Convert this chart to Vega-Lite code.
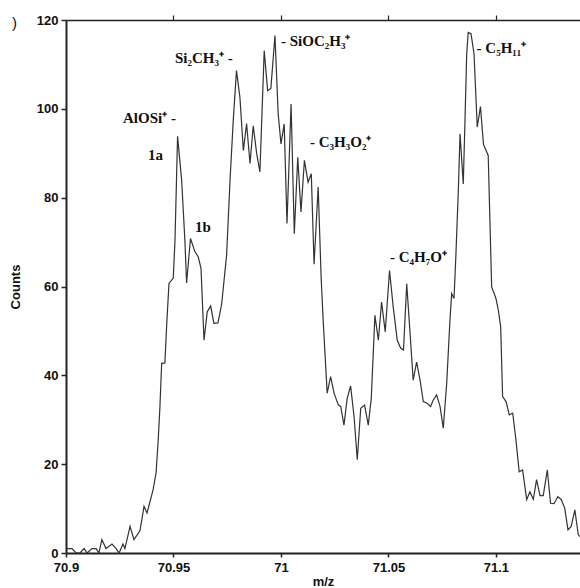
{
  "$schema": "https://vega.github.io/schema/vega-lite/v6.json",
  "width": 514,
  "height": 533,
  "autosize": {"type": "none"},
  "padding": {"left": 66, "top": 20, "right": 0, "bottom": 35},
  "background": "white",
  "view": {"stroke": null},
  "config": {
    "font": "Liberation Sans",
    "axis": {
      "labelFont": "Liberation Sans",
      "labelFontWeight": "bold",
      "labelFontSize": 13,
      "labelColor": "#111",
      "titleFont": "Liberation Sans",
      "titleFontWeight": "bold",
      "titleFontSize": 13,
      "titleColor": "#111",
      "domainColor": "#222",
      "tickColor": "#222",
      "grid": false
    }
  },
  "datasets": {
    "spectrum": [
      {"mz": 70.9003, "counts": 1}, {"mz": 70.9028, "counts": 1}, {"mz": 70.9047, "counts": 0},
      {"mz": 70.9065, "counts": 0}, {"mz": 70.9084, "counts": 1}, {"mz": 70.9098, "counts": 0},
      {"mz": 70.9121, "counts": 1}, {"mz": 70.9140, "counts": 1}, {"mz": 70.9153, "counts": 0},
      {"mz": 70.9167, "counts": 3}, {"mz": 70.9186, "counts": 1}, {"mz": 70.9214, "counts": 2},
      {"mz": 70.9233, "counts": 1}, {"mz": 70.9247, "counts": 0}, {"mz": 70.9265, "counts": 2},
      {"mz": 70.9274, "counts": 1}, {"mz": 70.9298, "counts": 6}, {"mz": 70.9316, "counts": 3},
      {"mz": 70.9344, "counts": 5}, {"mz": 70.9363, "counts": 10.5}, {"mz": 70.9377, "counts": 9},
      {"mz": 70.9405, "counts": 14.2}, {"mz": 70.9419, "counts": 18}, {"mz": 70.9429, "counts": 25.5},
      {"mz": 70.9437, "counts": 33}, {"mz": 70.9445, "counts": 42.7}, {"mz": 70.9460, "counts": 42.8},
      {"mz": 70.9468, "counts": 51}, {"mz": 70.9479, "counts": 60.7}, {"mz": 70.9499, "counts": 61.9},
      {"mz": 70.9507, "counts": 70.4}, {"mz": 70.9519, "counts": 93.8}, {"mz": 70.9538, "counts": 83.9},
      {"mz": 70.9553, "counts": 70.4}, {"mz": 70.9561, "counts": 60.8}, {"mz": 70.9579, "counts": 70.8},
      {"mz": 70.9600, "counts": 67.8}, {"mz": 70.9615, "counts": 66.7}, {"mz": 70.9628, "counts": 64.1},
      {"mz": 70.9642, "counts": 47.9}, {"mz": 70.9657, "counts": 54.3}, {"mz": 70.9673, "counts": 55.6},
      {"mz": 70.9688, "counts": 51.7}, {"mz": 70.9707, "counts": 51.8}, {"mz": 70.9724, "counts": 56},
      {"mz": 70.9747, "counts": 67}, {"mz": 70.9763, "counts": 83.9}, {"mz": 70.9778, "counts": 97.4},
      {"mz": 70.9793, "counts": 108.6}, {"mz": 70.9809, "counts": 102.6}, {"mz": 70.9825, "counts": 90.6},
      {"mz": 70.9840, "counts": 96.7}, {"mz": 70.9856, "counts": 87.7}, {"mz": 70.9871, "counts": 96.2},
      {"mz": 70.9887, "counts": 89.9}, {"mz": 70.9902, "counts": 85.8}, {"mz": 70.9922, "counts": 113.1},
      {"mz": 70.9938, "counts": 104.1}, {"mz": 70.9953, "counts": 104.6}, {"mz": 70.9972, "counts": 116.5},
      {"mz": 70.9987, "counts": 98.9}, {"mz": 71.0000, "counts": 92.1}, {"mz": 71.0015, "counts": 96.6},
      {"mz": 71.0028, "counts": 74.2}, {"mz": 71.0047, "counts": 101.1}, {"mz": 71.0062, "counts": 71.9},
      {"mz": 71.0078, "counts": 89.1}, {"mz": 71.0093, "counts": 76.8}, {"mz": 71.0109, "counts": 88.4},
      {"mz": 71.0126, "counts": 83.5}, {"mz": 71.0141, "counts": 85.4}, {"mz": 71.0154, "counts": 65},
      {"mz": 71.0173, "counts": 82.4}, {"mz": 71.0187, "counts": 61.8}, {"mz": 71.0197, "counts": 51.7},
      {"mz": 71.0215, "counts": 36}, {"mz": 71.0231, "counts": 39.7}, {"mz": 71.0247, "counts": 36},
      {"mz": 71.0267, "counts": 33.3}, {"mz": 71.0278, "counts": 33}, {"mz": 71.0293, "counts": 28.8},
      {"mz": 71.0308, "counts": 34.8}, {"mz": 71.0324, "counts": 37.6}, {"mz": 71.0340, "counts": 30.7},
      {"mz": 71.0355, "counts": 21}, {"mz": 71.0371, "counts": 32.6}, {"mz": 71.0389, "counts": 33.3},
      {"mz": 71.0406, "counts": 28.8}, {"mz": 71.0420, "counts": 34.8}, {"mz": 71.0437, "counts": 53.5},
      {"mz": 71.0453, "counts": 47.9}, {"mz": 71.0468, "counts": 56.5}, {"mz": 71.0485, "counts": 49.8},
      {"mz": 71.0505, "counts": 63.6}, {"mz": 71.0522, "counts": 55.4}, {"mz": 71.0541, "counts": 47.9},
      {"mz": 71.0557, "counts": 46.1}, {"mz": 71.0570, "counts": 45.7}, {"mz": 71.0585, "counts": 60.6},
      {"mz": 71.0600, "counts": 49.8}, {"mz": 71.0615, "counts": 38.9}, {"mz": 71.0631, "counts": 43},
      {"mz": 71.0647, "counts": 38.9}, {"mz": 71.0662, "counts": 34.1}, {"mz": 71.0680, "counts": 33.7},
      {"mz": 71.0696, "counts": 33}, {"mz": 71.0708, "counts": 34.4}, {"mz": 71.0724, "counts": 35.6},
      {"mz": 71.0740, "counts": 33}, {"mz": 71.0755, "counts": 28.1}, {"mz": 71.0771, "counts": 38.2},
      {"mz": 71.0786, "counts": 52.4}, {"mz": 71.0794, "counts": 58.4}, {"mz": 71.0805, "counts": 57.3},
      {"mz": 71.0814, "counts": 67.4}, {"mz": 71.0825, "counts": 81.6}, {"mz": 71.0833, "counts": 94.4},
      {"mz": 71.0840, "counts": 89.1}, {"mz": 71.0848, "counts": 83.1}, {"mz": 71.0856, "counts": 97.4},
      {"mz": 71.0864, "counts": 112.4}, {"mz": 71.0871, "counts": 117.2}, {"mz": 71.0884, "counts": 116.9},
      {"mz": 71.0898, "counts": 112.4}, {"mz": 71.0913, "counts": 95.9}, {"mz": 71.0928, "counts": 100.5},
      {"mz": 71.0942, "counts": 92}, {"mz": 71.0964, "counts": 89.5}, {"mz": 71.0980, "counts": 59.9},
      {"mz": 71.1000, "counts": 57.3}, {"mz": 71.1011, "counts": 54.7}, {"mz": 71.1022, "counts": 50.9},
      {"mz": 71.1031, "counts": 35.2}, {"mz": 71.1047, "counts": 34.1}, {"mz": 71.1062, "counts": 31.1},
      {"mz": 71.1078, "counts": 31.5}, {"mz": 71.1093, "counts": 25.5}, {"mz": 71.1108, "counts": 18.3},
      {"mz": 71.1124, "counts": 18.7}, {"mz": 71.1143, "counts": 12}, {"mz": 71.1158, "counts": 13.8},
      {"mz": 71.1174, "counts": 12.1}, {"mz": 71.1189, "counts": 16.5}, {"mz": 71.1205, "counts": 12.9},
      {"mz": 71.1220, "counts": 12.9}, {"mz": 71.1239, "counts": 18.7}, {"mz": 71.1254, "counts": 11.2},
      {"mz": 71.1270, "counts": 11.1}, {"mz": 71.1288, "counts": 12.7}, {"mz": 71.1304, "counts": 12},
      {"mz": 71.1320, "counts": 10.1}, {"mz": 71.1335, "counts": 5.2}, {"mz": 71.1350, "counts": 6},
      {"mz": 71.1367, "counts": 9.7}, {"mz": 71.1383, "counts": 4.1}, {"mz": 71.1391, "counts": 3.7}
    ],
    "labels": [
      {"mz": 70.9265, "counts": 98.0, "label": "AlOSi⁺ -"},
      {"mz": 70.9381, "counts": 89.5, "label": "1a"},
      {"mz": 70.9600, "counts": 73.5, "label": "1b"},
      {"mz": 70.9507, "counts": 111.5, "label": "Si₂CH₃⁺ -"},
      {"mz": 71.0000, "counts": 115.3, "label": "- SiOC₂H₃⁺"},
      {"mz": 71.0135, "counts": 92.5, "label": "- C₃H₃O₂⁺"},
      {"mz": 71.0507, "counts": 66.7, "label": "- C₄H₇O⁺"},
      {"mz": 71.0910, "counts": 113.8, "label": "- C₅H₁₁⁺"}
    ],
    "corner": [
      {"mz": 70.8749, "counts": 119.4, "label": ")"}
    ]
  },
  "layer": [
    {
      "data": {"name": "spectrum"},
      "mark": {"type": "line", "color": "#333", "strokeWidth": 1.2, "clip": true},
      "encoding": {
        "x": {
          "field": "mz", "type": "quantitative",
          "scale": {"domain": [70.9, 71.1391], "nice": false, "zero": false},
          "axis": {
            "orient": "bottom", "title": "m/z",
            "values": [70.9, 70.95, 71, 71.05, 71.1],
            "format": ".2~f",
            "tickSize": 4, "domainWidth": 2, "tickWidth": 1.5,
            "labelPadding": 4, "titlePadding": 1,
            "labelFlush": false
          }
        },
        "y": {
          "field": "counts", "type": "quantitative",
          "scale": {"domain": [0, 120], "nice": false},
          "axis": {
            "title": "Counts",
            "values": [0, 20, 40, 60, 80, 100, 120],
            "tickSize": 5, "domainWidth": 2, "tickWidth": 1.5,
            "labelPadding": 3, "titlePadding": 14,
            "labelFlush": false
          }
        }
      }
    },
    {
      "data": {"name": "spectrum"},
      "mark": {"type": "point", "opacity": 0},
      "encoding": {
        "x": {
          "field": "mz", "type": "quantitative",
          "axis": {
            "orient": "top", "title": null, "labels": false,
            "values": [70.95, 71, 71.05, 71.1],
            "tickSize": 5, "domainWidth": 1.5, "tickWidth": 1.2
          }
        }
      }
    },
    {
      "data": {"name": "labels"},
      "mark": {"type": "text", "align": "left", "baseline": "middle", "font": "Liberation Serif", "fontWeight": "bold", "fontSize": 15, "color": "#111"},
      "encoding": {
        "x": {"field": "mz", "type": "quantitative", "axis": null},
        "y": {"field": "counts", "type": "quantitative"},
        "text": {"field": "label"}
      }
    },
    {
      "data": {"name": "corner"},
      "mark": {"type": "text", "align": "left", "baseline": "middle", "font": "Liberation Sans", "fontSize": 15, "color": "#111"},
      "encoding": {
        "x": {"field": "mz", "type": "quantitative", "axis": null},
        "y": {"field": "counts", "type": "quantitative"},
        "text": {"field": "label"}
      }
    }
  ],
  "resolve": {"axis": {"x": "independent"}}
}
